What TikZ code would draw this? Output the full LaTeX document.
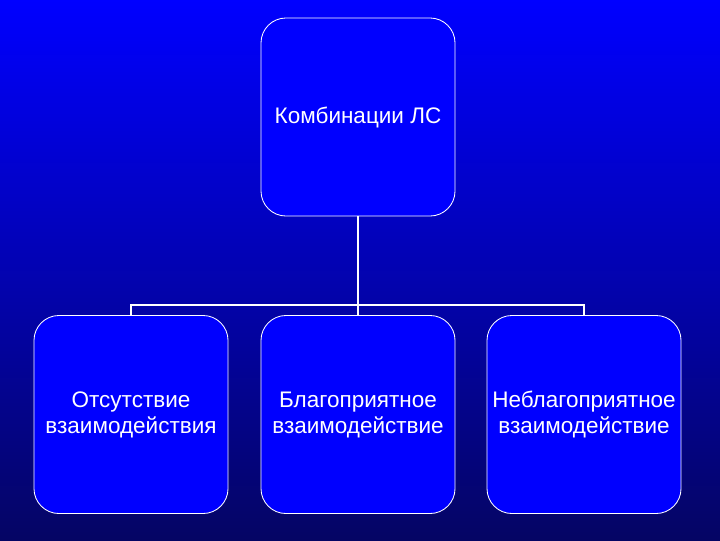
\documentclass[tikz,border=0pt]{standalone}
\usepackage{fontspec}
\setmainfont{Liberation Sans}
\usepackage{tikz}
\usetikzlibrary{positioning}
\definecolor{bgtop}{RGB}{0,0,255}
\definecolor{bgbottom}{RGB}{5,5,100}
\definecolor{boxblue}{RGB}{0,0,255}
\tikzset{
  card/.style={draw=white, line width=0.6pt, fill=boxblue, rounded corners=0.625cm,
    minimum width=4.85cm, minimum height=4.95cm, align=center, text=white,
    font=\fontsize{16}{18.5}\selectfont},
  link/.style={draw=white, line width=1.4pt}
}

\begin{document}
\begin{tikzpicture}[x=0.025cm, y=-0.025cm]
% Background
\shade[top color=bgtop, bottom color=bgbottom] (0,0) rectangle (720,540);
\useasboundingbox (0,0) rectangle (720,540);

% Boxes
\node[card] (combo) at (358,117) {Комбинации ЛС};
\node[card] (none) at (131,414.5) {Отсутствие\\взаимодействия};
\node[card] (good) at (358,414.5) {Благоприятное\\взаимодействие};
\node[card] (bad) at (584,414.5) {Неблагоприятное\\взаимодействие};

% Connectors
\coordinate (bus) at (358,305);
\draw[link] (combo.south) -- (bus);
\draw[link] (none.north) |- (bus) -| (bad.north);
\draw[link] (bus) -- (good.north);
\end{tikzpicture}
\end{document}
